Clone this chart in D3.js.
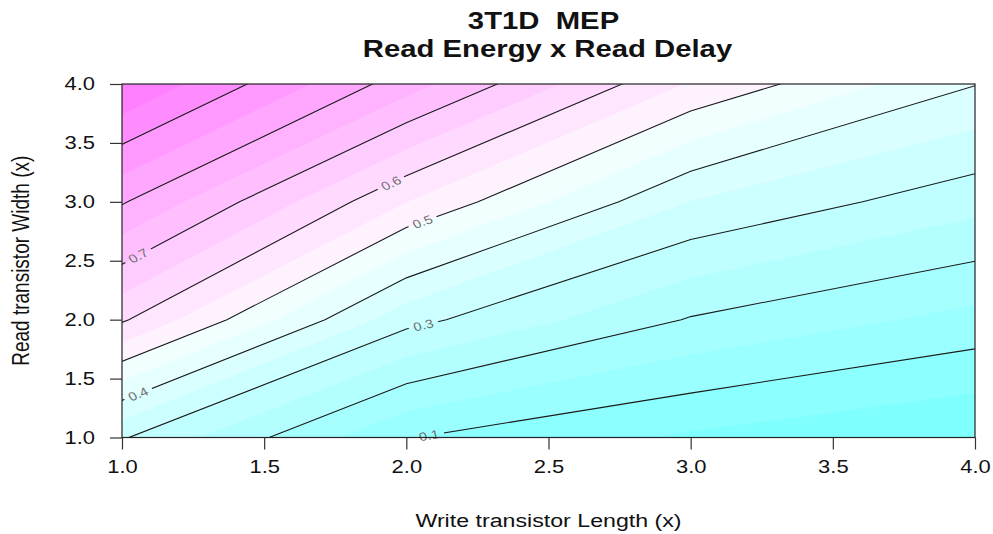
<!DOCTYPE html>
<html>
<head>
<meta charset="utf-8">
<script src="https://cdn.jsdelivr.net/npm/d3@7"></script>
<style>
  body { margin: 0; background: #fff; }
  svg { display: block; }
</style>
</head>
<body>
<svg id="chart" width="993" height="534"></svg>
<script>
// Grid of design points: write transistor length (x) and read transistor width (y)
const xValues = [1, 2, 3, 4];
const yValues = [1, 2, 3, 4];

// Normalised Read Energy x Read Delay, one row per read width (1x .. 4x),
// columns ordered by write length (1x .. 4x)
const zWidth1 = [0.305, 0.102, 0.042, 0.000];
const zWidth2 = [0.607, 0.317, 0.196, 0.133];
const zWidth3 = [0.805, 0.551, 0.349, 0.268];
const zWidth4 = [1.000, 0.773, 0.545, 0.402];

// Filled bands and contour lines
const fillLevels = [0, 0.05, 0.1, 0.15, 0.2, 0.25, 0.3, 0.35, 0.4, 0.45, 0.5,
                    0.55, 0.6, 0.65, 0.7, 0.75, 0.8, 0.85, 0.9, 0.95, 1.0];
const lineLevels = [0.1, 0.2, 0.3, 0.4, 0.5, 0.6, 0.7, 0.8, 0.9];

// Contour labels: level and the x position where the label sits on its line
const labelLevels = [0.1, 0.3, 0.4, 0.5, 0.6, 0.7];
const labelAtX    = [2.08, 2.06, 1.057, 2.057, 1.946, 1.057];

// Axis ticks
const xTicks = [1.0, 1.5, 2.0, 2.5, 3.0, 3.5, 4.0];
const yTicks = [1.0, 1.5, 2.0, 2.5, 3.0, 3.5, 4.0];

const titleLines = ["3T1D  MEP", "Read Energy x Read Delay"];
const xTitle = "Write transistor Length (x)";
const yTitle = "Read transistor Width (x)";

// ---------------------------------------------------------------------------
const W = 993, H = 534;
const FONT = "'Liberation Sans', Arial, Helvetica, sans-serif";
const S = 1.22;                       // horizontal text stretch of the device
const plot = { left: 122, right: 975, top: 84, bottom: 437.5 };

const svg = d3.select("#chart");

const x = d3.scaleLinear()
  .domain([xValues[0], xValues[xValues.length - 1]])
  .range([plot.left, plot.right]);
const y = d3.scaleLinear()
  .domain([yValues[0], yValues[yValues.length - 1]])
  .range([plot.bottom, plot.top]);

// R-style cm.colors palette (cyan -> white -> magenta)
function hsvToHex(h, s, v) {
  const i = Math.floor(h * 6), f = h * 6 - i;
  const p = v * (1 - s), q = v * (1 - f * s), t = v * (1 - (1 - f) * s);
  const [r, g, b] = [[v, t, p], [q, v, p], [p, v, t], [p, q, v], [t, p, v], [v, p, q]][i % 6];
  return d3.rgb(Math.round(r * 255), Math.round(g * 255), Math.round(b * 255)).formatHex();
}
function cmColors(n) {
  const even = n % 2 === 0, k = Math.floor(n / 2);
  const l1 = k + 1 - (even ? 1 : 0), l2 = n - k + (even ? 1 : 0);
  const seq = (a, b, len) => len === 1 ? [a] : d3.range(len).map(i => a + (b - a) * i / (len - 1));
  const out = seq(0.5, even ? 0.5 / k : 0, l1).map(s => hsvToHex(6 / 12, s, 1));
  if (l2 > 1) seq(0, 0.5, l2).slice(1).forEach(s => out.push(hsvToHex(10 / 12, s, 1)));
  return out;
}
const bandColors = cmColors(fillLevels.length - 1);

// Contour generator over the value grid (value i sits at grid coordinate i + 0.5)
const nx = xValues.length, ny = yValues.length;
const grid = [zWidth1, zWidth2, zWidth3, zWidth4].flat();
const contours = d3.contours().size([nx, ny]);
const gx0 = xValues[0], gdx = xValues[1] - xValues[0];
const gy0 = yValues[0], gdy = yValues[1] - yValues[0];
const toPixel = (cx, cy) => [x(gx0 + (cx - 0.5) * gdx), y(gy0 + (cy - 0.5) * gdy)];
const projection = d3.geoTransform({
  point(cx, cy) { const p = toPixel(cx, cy); this.stream.point(p[0], p[1]); }
});
const path = d3.geoPath(projection);

const defs = svg.append("defs");
defs.append("clipPath").attr("id", "plotClip")
  .append("rect")
  .attr("x", plot.left).attr("y", plot.top)
  .attr("width", plot.right - plot.left).attr("height", plot.bottom - plot.top);

// Filled bands
const fillG = svg.append("g").attr("clip-path", "url(#plotClip)");
fillG.append("rect")
  .attr("x", plot.left).attr("y", plot.top)
  .attr("width", plot.right - plot.left).attr("height", plot.bottom - plot.top)
  .attr("fill", bandColors[0]);
fillG.selectAll("path.band")
  .data(fillLevels.slice(1, -1).map((lv, i) => ({ geo: contours.contour(grid, lv), color: bandColors[i + 1] })))
  .join("path")
  .attr("class", "band")
  .attr("d", d => path(d.geo))
  .attr("fill", d => d.color)
  .attr("stroke", d => d.color)
  .attr("stroke-width", 0.3);

// Place labels on their lines: find the line segment crossing the label's x
const lineGeos = lineLevels.map(lv => ({ level: lv, geo: contours.contour(grid, lv) }));
const labels = labelLevels.map((lv, i) => {
  const geo = contours.contour(grid, lv);
  const px = x(labelAtX[i]);
  let best = null;
  geo.coordinates.forEach(poly => poly.forEach(ring => {
    for (let k = 0; k < ring.length - 1; k++) {
      const a = toPixel(ring[k][0], ring[k][1]), b = toPixel(ring[k + 1][0], ring[k + 1][1]);
      if ((a[0] - px) * (b[0] - px) <= 0 && a[0] !== b[0]) {
        const t = (px - a[0]) / (b[0] - a[0]);
        const py = a[1] + t * (b[1] - a[1]);
        if (py >= plot.top && py <= plot.bottom && !best) {
          const dxp = Math.abs(b[0] - a[0]);
          const dyp = (b[0] > a[0] ? 1 : -1) * (b[1] - a[1]);
          best = { px, py, angle: Math.atan2(dyp, dxp / S) * 180 / Math.PI };
        }
      }
    }
  }));
  return Object.assign({ text: d3.format(".1f")(lv) }, best);
}).filter(d => d.px !== undefined);

const labelSize = 12;
const gapW = 25, gapH = 9;
const mask = defs.append("mask").attr("id", "labelGaps")
  .attr("maskUnits", "userSpaceOnUse")
  .attr("x", 0).attr("y", 0).attr("width", W).attr("height", H);
mask.append("rect").attr("width", W).attr("height", H).attr("fill", "white");
mask.selectAll("rect.gap").data(labels).join("rect")
  .attr("class", "gap")
  .attr("x", -gapW / 2).attr("y", -gapH / 2)
  .attr("width", gapW).attr("height", gapH)
  .attr("fill", "black")
  .attr("transform", d => `translate(${d.px},${d.py}) scale(${S},1) rotate(${d.angle})`);

// Contour lines
const lineG = svg.append("g").attr("clip-path", "url(#plotClip)")
  .append("g").attr("mask", "url(#labelGaps)");
lineG.selectAll("path.iso").data(lineGeos).join("path")
  .attr("class", "iso")
  .attr("d", d => path(d.geo))
  .attr("fill", "none")
  .attr("stroke", "#1a1a1a")
  .attr("stroke-width", 1.1);

// Contour labels
svg.append("g").selectAll("text").data(labels).join("text")
  .attr("transform", d => `translate(${d.px},${d.py}) scale(${S},1) rotate(${d.angle})`)
  .attr("text-anchor", "middle")
  .attr("dy", "0.36em")
  .attr("font-family", FONT)
  .attr("font-size", labelSize)
  .attr("fill", "#707070")
  .text(d => d.text);

// Plot frame
svg.append("rect")
  .attr("x", plot.left).attr("y", plot.top)
  .attr("width", plot.right - plot.left).attr("height", plot.bottom - plot.top)
  .attr("fill", "none").attr("stroke", "#222").attr("stroke-width", 1.2);

// Axes
const tickLen = 12;
const xAxis = d3.axisBottom(x).tickValues(xTicks).tickFormat(d3.format(".1f"))
  .tickSize(tickLen).tickPadding(11).tickSizeOuter(0);
const gxAxis = svg.append("g").attr("transform", `translate(0,${plot.bottom})`).call(xAxis);
gxAxis.select(".domain").remove();
gxAxis.attr("font-family", FONT).attr("font-size", 18);
gxAxis.selectAll(".tick line").attr("stroke", "#333").attr("stroke-width", 1.2);
gxAxis.selectAll(".tick text").attr("fill", "#111").attr("transform", `scale(${S},1)`);

const yAxis = d3.axisLeft(y).tickValues(yTicks).tickFormat(d3.format(".1f"))
  .tickSize(tickLen).tickPadding(0).tickSizeOuter(0);
const gyAxis = svg.append("g").attr("transform", `translate(${plot.left},0)`).call(yAxis);
gyAxis.select(".domain").remove();
gyAxis.attr("font-family", FONT).attr("font-size", 18);
gyAxis.selectAll(".tick line").attr("stroke", "#333").attr("stroke-width", 1.2);
gyAxis.selectAll(".tick text").attr("fill", "#111")
  .attr("x", -(plot.left - 95) / S)
  .attr("transform", `scale(${S},1)`);

// Titles
svg.append("g").selectAll("text").data(titleLines).join("text")
  .attr("transform", (d, i) => `translate(${(plot.left + plot.right) / 2 - (i === 0 ? 5 : 1)},${29 + i * 28}) scale(${S},1)`)
  .attr("text-anchor", "middle")
  .attr("font-family", FONT)
  .attr("font-weight", "bold")
  .attr("font-size", 24)
  .style("white-space", "pre")
  .attr("fill", "#111")
  .text(d => d);

svg.append("text")
  .attr("transform", `translate(${(plot.left + plot.right) / 2},527) scale(${S},1)`)
  .attr("text-anchor", "middle")
  .attr("font-family", FONT)
  .attr("font-size", 19)
  .attr("fill", "#111")
  .text(xTitle);

svg.append("text")
  .attr("transform", `translate(29,${(plot.top + plot.bottom) / 2}) scale(${S},1) rotate(-90)`)
  .attr("text-anchor", "middle")
  .attr("font-family", FONT)
  .attr("font-size", 19)
  .attr("fill", "#111")
  .text(yTitle);
</script>
</body>
</html>
